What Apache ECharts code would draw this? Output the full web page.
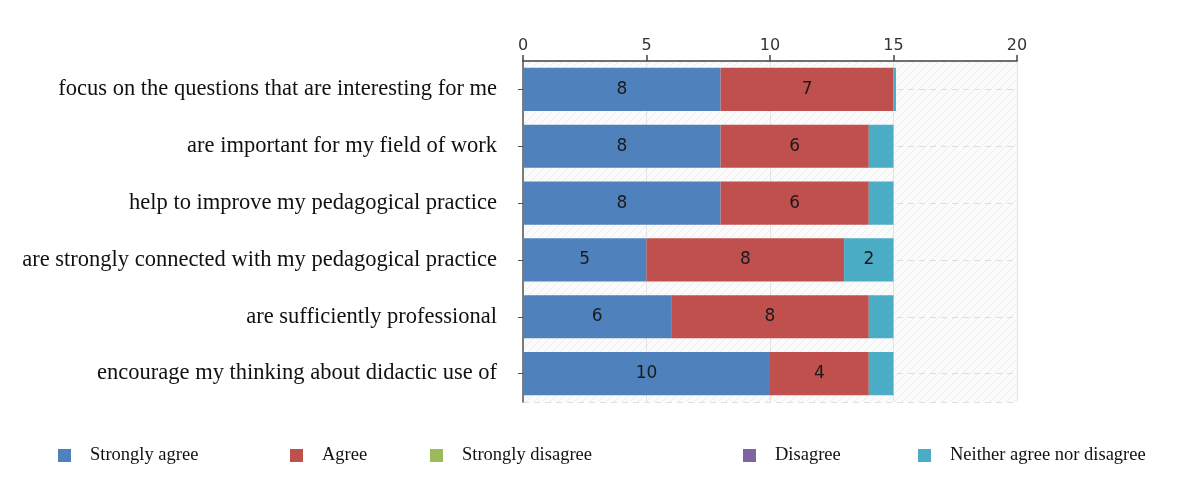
<!DOCTYPE html>
<html>
<head>
<meta charset="utf-8">
<script src="https://cdn.jsdelivr.net/npm/echarts@6/dist/echarts.min.js"></script>
<style>
  html, body { margin: 0; padding: 0; background: #fff; }
  #chart { width: 1200px; height: 490px; }
</style>
</head>
<body>
<div id="chart"></div>
<script>
const categories = [
  "focus on the questions that are interesting for me",
  "are important for my field of work",
  "help to improve my pedagogical practice",
  "are strongly connected with my pedagogical practice",
  "are sufficiently professional",
  "encourage my thinking about didactic use of",
];

const seriesNames = ["Strongly agree", "Agree", "Strongly disagree", "Disagree", "Neither agree nor disagree"];
const stronglyAgree = [8, 8, 8, 5, 6, 10];
const agree = [7, 6, 6, 8, 8, 4];
const stronglyDisagree = [0, 0, 0, 0, 0, 0];
const disagree = [0, 0, 0, 0, 0, 0];
const neither = [0.1, 1, 1, 2, 1, 1];

const xTicks = [0, 5, 10, 15, 20];
const colors = ["#4f81bd", "#c0504d", "#9bbb59", "#8064a2", "#4bacc6"];
const legendLeft = [58, 290, 430, 743, 918];

// hatched background of the plot area
const hatch = document.createElement("canvas");
hatch.width = 8;
hatch.height = 8;
const hc = hatch.getContext("2d");
hc.fillStyle = "#fbfbfb";
hc.fillRect(0, 0, 8, 8);
hc.strokeStyle = "#ececec";
hc.lineWidth = 1;
hc.beginPath();
hc.moveTo(0, 8); hc.lineTo(8, 0);
hc.moveTo(-4, 4); hc.lineTo(4, -4);
hc.moveTo(4, 12); hc.lineTo(12, 4);
hc.stroke();

const chart = echarts.init(document.getElementById("chart"));

const allData = [stronglyAgree, agree, stronglyDisagree, disagree, neither];

const series = seriesNames.map((name, i) => ({
  name: name,
  type: "bar",
  stack: "total",
  data: allData[i],
  barCategoryGap: "24%",
  itemStyle: { color: colors[i] },
  label: {
    show: true,
    position: "inside",
    color: "#1a1a1a",
    fontFamily: "DejaVu Sans",
    fontSize: 17,
    formatter: (p) => (p.value >= 2 ? String(p.value) : ""),
  },
}));

const legends = seriesNames.map((name, i) => ({
  data: [name],
  left: legendLeft[i],
  top: 446,
  padding: 0,
  icon: "rect",
  itemWidth: 13,
  itemHeight: 13,
  textStyle: {
    fontFamily: "Liberation Serif",
    fontSize: 18.5,
    color: "#111",
    padding: [0, 0, 0, 14],
  },
}));

chart.setOption({
  animation: false,
  color: colors,
  legend: legends,
  grid: {
    left: 523,
    right: 183,
    top: 61,
    height: 341,
    show: true,
    borderWidth: 0,
    backgroundColor: { image: hatch, repeat: "repeat" },
  },
  xAxis: {
    type: "value",
    position: "top",
    min: 0,
    max: 20,
    interval: 5,
    axisLine: { show: true, onZero: false, lineStyle: { color: "#444", width: 1.5 } },
    axisTick: { show: true, length: 6, lineStyle: { color: "#444", width: 1.5 } },
    axisLabel: {
      color: "#333",
      fontFamily: "DejaVu Sans",
      fontSize: 16,
      margin: 7,
      formatter: (v) => (xTicks.includes(v) ? String(v) : ""),
    },
    splitLine: { show: true, lineStyle: { color: "#e4e4e4" } },
  },
  yAxis: [
    {
      type: "category",
      data: categories,
      inverse: true,
      axisLine: { show: true, lineStyle: { color: "#555", width: 1.5 } },
      axisTick: { show: true, alignWithLabel: true, length: 5, lineStyle: { color: "#555" } },
      axisLabel: {
        color: "#111",
        fontFamily: "Liberation Serif",
        fontSize: 22.5,
        margin: 26,
      },
      splitLine: { show: false },
    },
    {
      type: "value",
      min: -0.5,
      max: 5.5,
      splitNumber: 6,
      inverse: true,
      position: "right",
      axisLine: { show: false },
      axisTick: { show: false },
      axisLabel: { show: false },
      splitLine: { show: true, lineStyle: { color: "#dedede", type: [6, 5] } },
    },
  ],
  series: series,
});
</script>
</body>
</html>
